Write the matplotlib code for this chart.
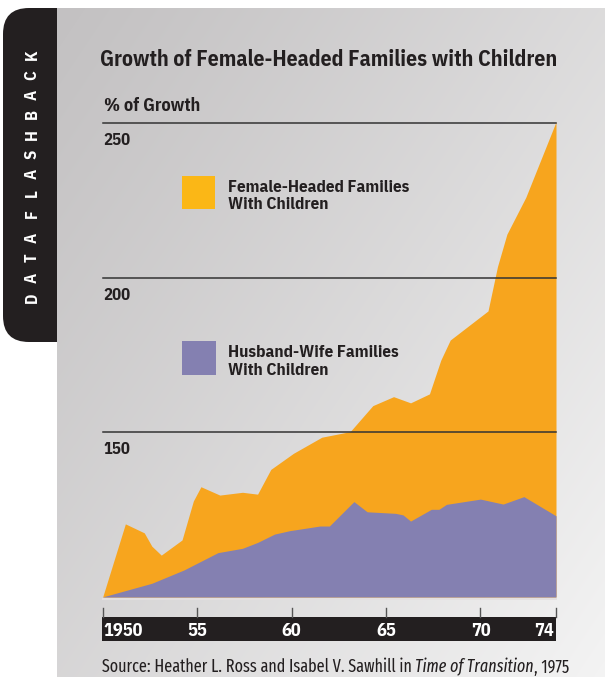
import numpy as np
import matplotlib.pyplot as plt
from matplotlib.patches import Rectangle, FancyBboxPatch
import matplotlib.transforms as mtransforms

# values (% of growth, 1950 baseline at the bottom of the plot)
female_years = [1950.0, 1951.2, 1952.2, 1952.6, 1953.1, 1954.2, 1954.8, 1955.2, 1956.2,
                1957.4, 1958.2, 1958.9, 1960.1, 1961.6, 1963.1, 1964.3, 1965.4, 1966.3,
                1967.3, 1967.9, 1968.4, 1970.4, 1970.9, 1971.4, 1972.4, 1974.0]
female_growth = [96.8, 120.4, 117.5, 113.2, 110.3, 115.2, 127.8, 132.4, 129.7,
                 130.6, 130.0, 138.0, 143.2, 148.4, 150.2, 158.6, 161.5, 159.5,
                 162.4, 173.3, 179.8, 189.2, 203.5, 214.0, 225.9, 250.3]

husband_years = [1950.0, 1952.6, 1954.3, 1956.1, 1957.4, 1958.2, 1959.1, 1959.9, 1961.5,
                 1962.0, 1963.3, 1964.0, 1965.5, 1965.9, 1966.3, 1967.4, 1967.8, 1968.2,
                 1970.0, 1971.2, 1972.3, 1974.0]
husband_growth = [96.8, 101.2, 105.5, 111.1, 112.5, 114.4, 117.1, 118.2, 119.7,
                  119.7, 127.6, 124.3, 123.8, 123.3, 121.3, 125.1, 125.1, 126.7,
                  128.4, 126.8, 129.2, 123.0]

grid_values = [150, 200, 250]
tick_years = [1950, 1955, 1960, 1965, 1970, 1974]
tick_labels = ["1950", "55", "60", "65", "70", "74"]

title = "Growth of Female-Headed Families with Children"
ylabel = "% of Growth"
legend_female = ["Female-Headed Families", "With Children"]
legend_husband = ["Husband-Wife Families", "With Children"]
side_label = "DATA FLASHBACK"

ORANGE = "#f7a51e"
ORANGE_KEY = "#fbb716"
PURPLE = "#8480b1"
INK = "#231f20"

plt.rcParams['font.family'] = ["IBM Plex Sans Condensed", "DejaVu Sans"]
LIGHT = ["Fira Sans Extra Condensed", "DejaVu Sans"]

W, H = 605, 677
fig = plt.figure(figsize=(W / 100, H / 100), dpi=100)
fig.patch.set_facecolor("white")

# background layer in pixel coordinates
bg = fig.add_axes([0, 0, 1, 1])
bg.set_xlim(0, W)
bg.set_ylim(H, 0)
bg.axis("off")

# black tab behind the panel
tab = FancyBboxPatch((3, 8), 90, 334, boxstyle="round,pad=0,rounding_size=26",
                     facecolor=INK, edgecolor="none", zorder=1)
bg.add_patch(tab)

# gray gradient panel
gx, gy = np.meshgrid(np.linspace(0, 1, 300), np.linspace(0, 1, 330))
t = np.clip(0.55 * gx + 0.45 * gy, 0, 1) ** 1.1
dark = np.array([0.765, 0.757, 0.761])
light = np.array([0.955, 0.955, 0.955])
grad = dark[None, None, :] + (light - dark)[None, None, :] * t[..., None]
bg.imshow(grad, extent=(57, W, H, 8), aspect="auto", zorder=2, interpolation="bilinear")

# vertical side label
pos = 297.5
for ch in side_label:
    if ch == " ":
        pos -= 5
        continue
    bg.text(32, pos, ch, rotation=90, color="white", fontsize=12, fontweight="bold",
            ha="center", va="center", zorder=3)
    pos -= 19.8

# titles
bg.text(100, 65.7, title, fontsize=15.7, fontweight="bold", color=INK,
        ha="left", va="baseline", zorder=3)
bg.text(104, 111, ylabel, fontsize=13.1, fontweight="bold", color=INK,
        ha="left", va="baseline", zorder=3)

# legend keys
bg.add_patch(Rectangle((181.7, 176), 33.3, 33.3, facecolor=ORANGE_KEY, edgecolor="none", zorder=3))
bg.add_patch(Rectangle((182, 341), 34, 33.5, facecolor=PURPLE, edgecolor="none", zorder=3))
for i, line in enumerate(legend_female):
    bg.text(228.3, 192.3 + 17 * i, line, fontsize=12.3, fontweight="bold", color=INK,
            ha="left", va="baseline", zorder=3)
for i, line in enumerate(legend_husband):
    bg.text(228.3, 357.3 + 17.7 * i, line, fontsize=12.3, fontweight="bold", color=INK,
            ha="left", va="baseline", zorder=3)

# chart area
left, right, top, bottom = 102.7, 556, 121.7, 597
ax = fig.add_axes([left / W, 1 - bottom / H, (right - left) / W, (bottom - top) / H])
ax.patch.set_alpha(0)
ax.axis("off")
ymin, ymax = 96.77, 250.34
ax.set_xlim(1950, 1974)
ax.set_ylim(ymin, ymax)

ax.fill_between(female_years, ymin, female_growth, color=ORANGE, lw=0, zorder=1)
ax.fill_between(husband_years, ymin, husband_growth, color=PURPLE, lw=0, zorder=2)

for v in grid_values:
    ax.axhline(v, color="#333333", lw=1.1, zorder=3, clip_on=False)
    ax.annotate(str(v), xy=(1950, v), xytext=(1.0, -22), textcoords="offset pixels",
                fontsize=12, fontweight="bold", color=INK, ha="left", va="baseline",
                annotation_clip=False)

# x-axis bar with ticks
bg.plot([left, right], [598.8, 598.8], color="#e4e0e0", lw=1.4, zorder=3)
bg.add_patch(Rectangle((left - 0.7, 617), right - left + 0.7, 24, facecolor=INK,
                       edgecolor="none", zorder=3))
xt = mtransforms.blended_transform_factory(ax.transData, bg.transData)
for yr, lab in zip(tick_years, tick_labels):
    bg.plot([yr, yr], [607.5, 617], color="#555555", lw=1, transform=xt, zorder=4)
    if yr == tick_years[0]:
        ha, dx = "left", 0.06
    elif yr == tick_years[-1]:
        ha, dx = "right", -0.12
    else:
        ha, dx = "center", 0
    bg.text(yr + dx, 636, lab, transform=xt, fontsize=13.2, fontweight="bold",
            color="white", ha=ha, va="baseline", zorder=5)

# source line with italic book title
src1 = bg.text(101.5, 672.5, "Source: Heather L. Ross and Isabel V. Sawhill in ", fontsize=12.6,
               family=LIGHT, fontweight="normal", color=INK, ha="left", va="baseline", zorder=3)
src2 = bg.annotate("Time of Transition", xy=(1, 0), xycoords=src1, fontsize=12.6, family=LIGHT,
                   fontweight="normal", fontstyle="italic", color=INK, ha="left", va="bottom",
                   zorder=3)
bg.annotate(", 1975", xy=(1, 0), xycoords=src2, fontsize=12.6, family=LIGHT, fontweight="normal",
            color=INK, ha="left", va="bottom", zorder=3)

fig.savefig("out.png", dpi=100)
